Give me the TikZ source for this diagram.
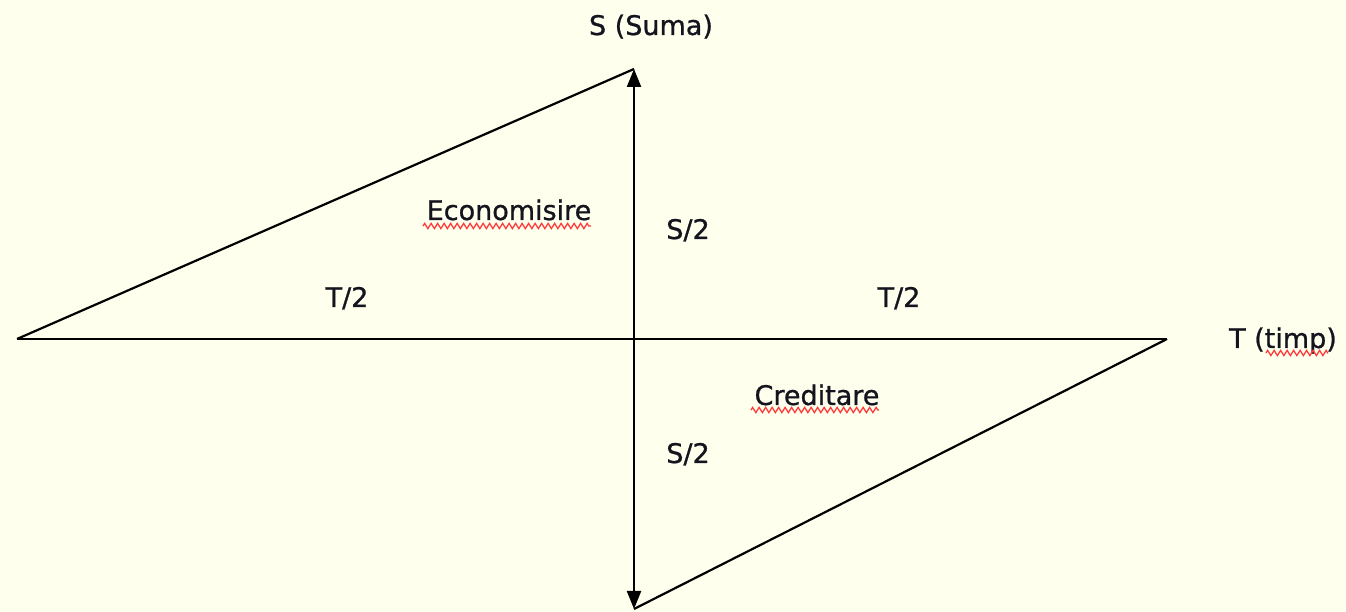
\documentclass[tikz,border=0pt]{standalone}
\usepackage{fontspec}
\setmainfont{DejaVu Sans}
\newfontfamily\lblfont{DejaVu Sans}[FakeBold=0.9]
\usetikzlibrary{arrows.meta,decorations.pathmorphing}
\definecolor{bgyellow}{RGB}{255,255,238}
\definecolor{txtcol}{RGB}{20,20,30}
\definecolor{squig}{RGB}{255,60,60}
\begin{document}
\begin{tikzpicture}[x=1pt,y=1pt,
  axisline/.style={line width=2.2pt, black},
  lbl/.style={anchor=base, inner sep=0pt, text=txtcol, font=\lblfont\fontsize{27}{30}\selectfont},
  spell/.style={squig, line width=1.3pt, decorate, decoration={zigzag, segment length=6.5pt, amplitude=2.6pt}}]
\fill[bgyellow] (0,0) rectangle (1346,612);
\useasboundingbox (0,0) rectangle (1346,612);
% key points
\coordinate (L) at (17,273);
\coordinate (R) at (1167,273);
\coordinate (Tp) at (634,543);
\coordinate (B) at (634,3);
% lines
\draw[axisline] (L) -- (R);
\draw[axisline] (L) -- (Tp);
\draw[axisline] (R) -- (B);
\draw[axisline, {Triangle[length=18pt,width=14pt]}-{Triangle[length=18pt,width=14pt]}] (B) -- (Tp);
% labels
\node[lbl] (suma) at (651,577) {S (Suma)};
\node[lbl] (econ) at (509,392) {Economisire};
\node[lbl] (s2up) at (688,373) {S/2};
\node[lbl] (t2l) at (347,305) {T/2};
\node[lbl] (t2r) at (899,305) {T/2};
\node[lbl] (timp) at (1283,264) {T (timp)};
\node[lbl] (cred) at (817,207) {Creditare};
\node[lbl] (s2dn) at (688,149) {S/2};
% spell-check squiggles
\coordinate (e1) at (423,386); \coordinate (e2) at (591,386);
\coordinate (c1) at (751,202); \coordinate (c2) at (879,202);
\coordinate (p1) at (1266,259); \coordinate (p2) at (1328,259);
\draw[spell] (e1) -- (e2);
\draw[spell] (c1) -- (c2);
\draw[spell] (p1) -- (p2);
\end{tikzpicture}
\end{document}
